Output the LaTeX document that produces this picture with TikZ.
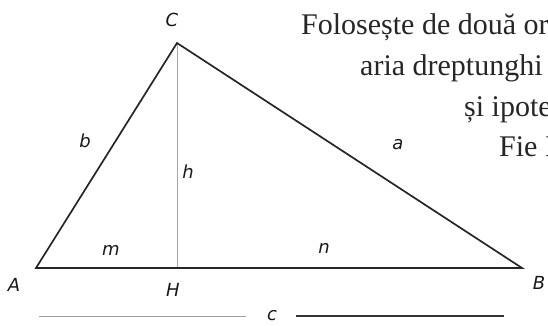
\documentclass[tikz,border=0pt]{standalone}
\usepackage{fontspec}
\setmainfont{Liberation Serif}
\newfontfamily\lblfont{DejaVu Sans}
\begin{document}
\begin{tikzpicture}[x=1pt,y=-1pt,
  side/.style={line width=1.7pt,black!85},
  alt/.style={line width=0.8pt,gray!70},
  lbl/.style={font=\lblfont\itshape\fontsize{18}{18}\selectfont,inner sep=0pt,text=black!90},
  para/.style={font=\fontsize{30}{30}\selectfont,inner sep=0pt,anchor=base west,text=black!85}]
\useasboundingbox (0,0) rectangle (548,325);
\clip (0,0) rectangle (548,325);
\coordinate (A) at (36,268);
\coordinate (B) at (522,268);
\coordinate (C) at (177,43);
\coordinate (H) at (177,268);
\draw[alt] (C) -- (H);
\draw[side,line join=miter] (A) -- (B) -- (C) -- cycle;
\node[lbl] (lC) at (172,20) {C};
\node[lbl] (lA) at (14,285) {A};
\node[lbl] (lH) at (173,290) {H};
\node[lbl] (lB) at (539,283) {B};
\node[lbl] (lb) at (85,141) {b};
\node[lbl] (lh) at (188,172) {h};
\node[lbl] (la) at (398,145) {a};
\node[lbl] (lm) at (111,250) {m};
\node[lbl] (ln) at (324,248) {n};
\node[lbl] (lc) at (272,316) {c};
\coordinate (L1) at (39,316);
\coordinate (L2) at (246,316);
\coordinate (R1) at (296,316);
\coordinate (R2) at (504,316);
\draw[line width=0.9pt,gray!75] (L1) -- (L2);
\draw[line width=1.1pt,black!80] (R1) -- (R2);
\node[para] (t1) at (301,34) {Folosește de două or};
\node[para] (t2) at (360,75) {aria dreptunghi};
\node[para] (t3) at (464,116) {și ipote};
\node[para] (t4) at (499,156) {Fie I};
\end{tikzpicture}
\end{document}
